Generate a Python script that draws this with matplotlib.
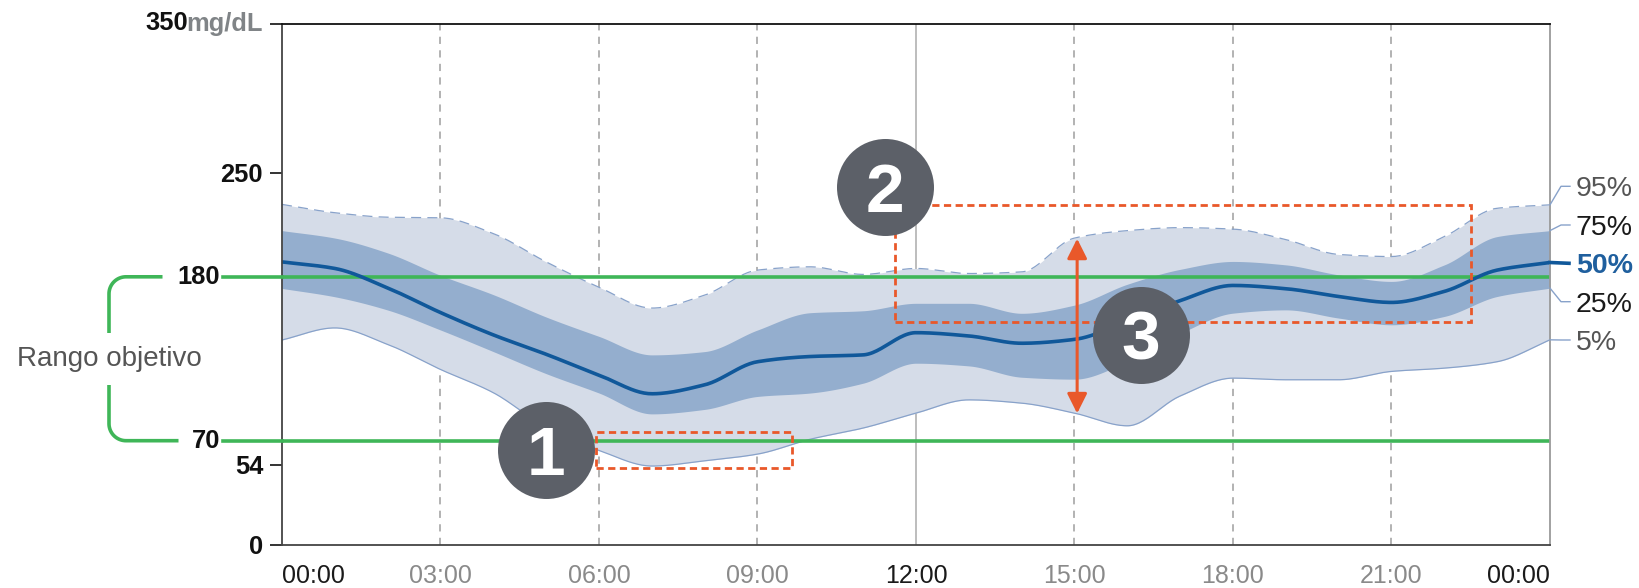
import numpy as np
import matplotlib
matplotlib.use("Agg")
import matplotlib.pyplot as plt
from matplotlib.lines import Line2D
from matplotlib.patches import Rectangle

plt.rcParams['font.family'] = ['Liberation Sans', 'DejaVu Sans']

# ---------------- data ----------------
hours = list(range(0, 25))
p95 = [228.6, 223, 220, 219.6, 209, 190, 173, 159, 167.7, 184.5, 186.7, 181.6, 185.6,
       182.2, 183.3, 206, 211, 213, 212, 205, 195, 193.6, 207, 226, 228.3]
p75 = [211, 206, 196, 181, 168, 153, 140, 127.6, 129.8, 144.3, 155.9, 157.2, 162.2,
       162.2, 155.5, 161, 175, 185, 190.3, 188, 181.3, 176.9, 188, 207, 211]
p50 = [190, 185.6, 172.5, 156, 141, 128, 114, 101.5, 107.5, 123, 126.5, 127.6, 142.5,
       140.3, 135.4, 138, 150, 164, 174.2, 172, 166.8, 162.8, 170.2, 184.5, 189.6]
p25 = [172.2, 166.6, 157.7, 144.3, 129.8, 115, 102, 88, 91, 99.7, 102, 108.6, 122,
       120.2, 112.6, 111.3, 123, 142, 155.6, 157.8, 152.3, 147.8, 153.4, 166.8, 172.4]
p5 = [137.6, 145.7, 134.6, 117.8, 102.2, 79, 63.5, 53, 56.5, 61, 71, 78.5, 88.5,
      97.4, 95.2, 88.5, 80, 100, 112, 110.9, 110.9, 116.5, 118.7, 123, 137.7]

x_ticks = [0, 3, 6, 9, 12, 15, 18, 21, 24]
x_labels = ["00:00", "03:00", "06:00", "09:00", "12:00", "15:00", "18:00", "21:00", "00:00"]
y_ticks = [0, 54, 250, 350]
y_labels = ["0", "54", "250", ""]
target_low, target_high = 70, 180
pct_labels = ["95%", "75%", "50%", "25%", "5%"]
target_label = "Rango objetivo"
unit_label = "mg/dL"

box1 = (5.94, 51.8, 9.65, 76.0)      # x0, y0, x1, y1
box2 = (11.6, 150.0, 22.51, 228.3)
arrow_x, arrow_y0, arrow_y1 = 15.05, 88.3, 205.6
circles = [(4.99, 63.7, "1"), (11.41, 240.2, "2"), (16.25, 140.8, "3")]

# ---------------- colours ----------------
C_LIGHT = "#D5DCE8"
C_DARK = "#94AECE"
C_MED = "#10589A"
C_EDGE = "#88A2CA"
C_GREEN = "#3FB658"
C_ORANGE = "#E9582A"
C_CIRCLE = "#5C6068"
C_GRID = "#ADADAD"


def pchip(x, y, xs):
    x = np.asarray(x, float)
    y = np.asarray(y, float)
    h = np.diff(x)
    d = np.diff(y) / h
    m = np.zeros_like(y)
    for k in range(1, len(y) - 1):
        if d[k - 1] * d[k] > 0:
            w1 = 2 * h[k] + h[k - 1]
            w2 = h[k] + 2 * h[k - 1]
            m[k] = (w1 + w2) / (w1 / d[k - 1] + w2 / d[k])
    m[0] = d[0]
    m[-1] = d[-1]
    idx = np.clip(np.searchsorted(x, xs) - 1, 0, len(h) - 1)
    t = (xs - x[idx]) / h[idx]
    h00 = 2 * t**3 - 3 * t**2 + 1
    h10 = t**3 - 2 * t**2 + t
    h01 = -2 * t**3 + 3 * t**2
    h11 = t**3 - t**2
    return h00 * y[idx] + h10 * h[idx] * m[idx] + h01 * y[idx + 1] + h11 * h[idx] * m[idx + 1]


W, H = 1640, 588
fig = plt.figure(figsize=(W / 100, H / 100), dpi=100)
AX_L, AX_R, AX_T, AX_B = 282.0, 1550.0, 23.5, 545.0
ax = fig.add_axes([AX_L / W, 1 - AX_B / H, (AX_R - AX_L) / W, (AX_B - AX_T) / H])
ax.set_xlim(0, 24)
ax.set_ylim(0, 350)


def fp(x, y):
    """image pixel (y down) -> figure fraction"""
    return x / W, 1 - y / H


def fline(xs, ys, **kw):
    pts = [fp(a, b) for a, b in zip(xs, ys)]
    fig.add_artist(Line2D([p[0] for p in pts], [p[1] for p in pts],
                          transform=fig.transFigure, **kw))


def ypix(v):
    return AX_B - (v / 350.0) * (AX_B - AX_T)


# grid
for xt in x_ticks[1:-1]:
    if xt == 12:
        ax.axvline(xt, color="#BDBDBD", lw=1.4, zorder=0.5)
    else:
        ax.axvline(xt, color=C_GRID, lw=1.3, ls=(0, (4, 3.5)), zorder=0.5)

xs = np.linspace(0, 24, 600)
s95 = pchip(hours, p95, xs)
s75 = pchip(hours, p75, xs)
s50 = pchip(hours, p50, xs)
s25 = pchip(hours, p25, xs)
s5 = pchip(hours, p5, xs)

ax.fill_between(xs, s5, s95, color=C_LIGHT, lw=0, zorder=1)
ax.fill_between(xs, s25, s75, color=C_DARK, lw=0, zorder=2)
ax.plot(xs, s95, color=C_EDGE, lw=0.9, ls=(0, (8, 5)), zorder=2.5)
ax.plot(xs, s5, color=C_EDGE, lw=0.9, zorder=2.5)

# target lines
ax.axhline(target_high, color=C_GREEN, lw=2.6, zorder=3)
ax.axhline(target_low, color=C_GREEN, lw=2.6, zorder=3)

ax.plot(xs, s50, color=C_MED, lw=2.6, zorder=4, solid_capstyle='butt')

# orange annotations
for (x0, y0, x1, y1) in (box1, box2):
    ax.add_patch(Rectangle((x0, y0), x1 - x0, y1 - y0, fill=False, ec=C_ORANGE,
                           lw=2.0, ls=(0, (2.6, 1.6)), zorder=6))
ax.annotate("", xy=(arrow_x, arrow_y1), xytext=(arrow_x, arrow_y0),
            arrowprops=dict(arrowstyle="<|-|>", color=C_ORANGE, lw=2.2,
                            mutation_scale=30, shrinkA=0, shrinkB=0), zorder=7)

for cx, cy, lab in circles:
    ax.scatter([cx], [cy], s=(97 * 0.72) ** 2, color=C_CIRCLE, zorder=10,
               clip_on=False, linewidths=0)
    ax.annotate(lab, xy=(cx, cy), xytext=(0, -17.8), textcoords="offset points",
                ha="center", va="baseline", color="white", fontsize=50,
                fontweight="bold", zorder=11)

# spines
for side, col in (("left", "#444444"), ("bottom", "#444444"),
                  ("top", "#111111"), ("right", "#9A9A9A")):
    ax.spines[side].set_color(col)
    ax.spines[side].set_linewidth(1.3)
    ax.spines[side].set_zorder(8)

# y ticks
ax.set_yticks(y_ticks)
ax.set_yticklabels(y_labels)
ax.tick_params(axis="y", length=8.4, width=1.4, color="#333333", pad=5.2,
               labelsize=18.4, labelcolor="#111111")
for t in ax.get_yticklabels():
    t.set_fontweight("bold")

# x ticks
ax.set_xticks(x_ticks)
ax.set_xticklabels(x_labels)
ax.tick_params(axis="x", length=0, pad=14, labelsize=18)
xt_labels = ax.get_xticklabels()
for i, t in enumerate(xt_labels):
    t.set_color("#1a1a1a" if x_ticks[i] % 12 == 0 else "#8A8A8A")
xt_labels[0].set_horizontalalignment("left")
xt_labels[-1].set_horizontalalignment("right")

# 350 mg/dL label
ytop = ypix(350)
t_mg = fig.text(*fp(262.7, ytop), unit_label, ha="right", va="center",
                fontsize=18.4, fontweight="bold", color="#808487")
ax.annotate("350", xy=(0, 0.5), xycoords=t_mg, xytext=(1.0, 0),
            textcoords="offset points", ha="right", va="center",
            fontsize=18.4, fontweight="bold", color="#111111")

# 180 / 70 labels and green extension
y180, y70 = ypix(target_high), ypix(target_low)
fig.text(*fp(220, y180), "180", ha="right", va="center", fontsize=18.4,
         fontweight="bold", color="#111111")
fig.text(*fp(220, y70), "70", ha="right", va="center", fontsize=18.4,
         fontweight="bold", color="#111111")
fline([223.5, AX_L], [y180, y180], color=C_GREEN, lw=2.6)
fline([223.5, AX_L], [y70, y70], color=C_GREEN, lw=2.6)

# bracket with rounded corners
bx, r = 109, 17
theta1 = np.linspace(np.pi / 2, np.pi, 20)
arc_top_x = bx + r + r * np.cos(theta1)
arc_top_y = y180 + r - r * np.sin(theta1)
fline([162.5] + list(arc_top_x) + [bx], [y180] + list(arc_top_y) + [333],
      color=C_GREEN, lw=2.6, solid_capstyle="butt")
theta2 = np.linspace(np.pi, 1.5 * np.pi, 20)
arc_bot_x = bx + r + r * np.cos(theta2)
arc_bot_y = y70 - r - r * np.sin(theta2)
fline([bx] + list(arc_bot_x) + [178.5], [385] + list(arc_bot_y) + [y70],
      color=C_GREEN, lw=2.6, solid_capstyle="butt")
fig.text(*fp(bx, 359), target_label, ha="center", va="center", fontsize=20,
         color="#555555")

# percentile labels on the right
ends = [p95[-1], p75[-1], p50[-1], p25[-1], p5[-1]]
label_y = [186.3, 225.0, 263.3, 301.7, 340.0]
label_col = ["#555555", "#1a1a1a", "#1F5F9E", "#1a1a1a", "#555555"]
for lab, ev, ly, col in zip(pct_labels, ends, label_y, label_col):
    ey = ypix(ev)
    if lab == "50%":
        fline([AX_R, 1569], [ey, ly], color=C_MED, lw=2.6)
        fig.text(*fp(1576, ly), lab, ha="left", va="center_baseline", fontsize=20.5,
                 fontweight="bold", color=col)
    else:
        fline([AX_R, 1561, 1570], [ey, ly, ly], color=C_EDGE, lw=1.0)
        fig.text(*fp(1576, ly), lab, ha="left", va="center_baseline", fontsize=20.5,
                 color=col)

fig.savefig("out.png", dpi=100, facecolor="white")
